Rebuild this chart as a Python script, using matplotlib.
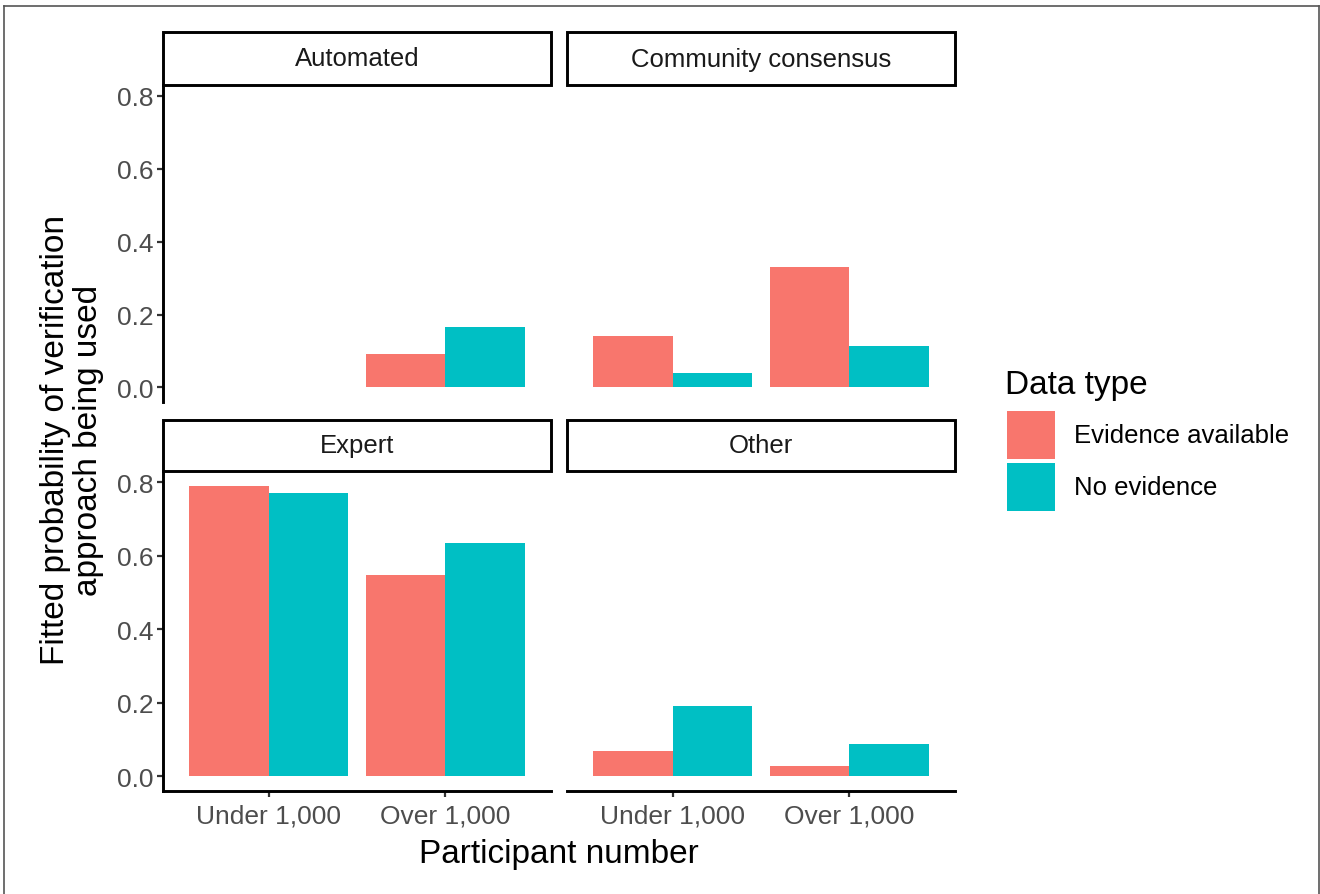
import matplotlib.pyplot as plt
from matplotlib.patches import Rectangle
from matplotlib.lines import Line2D
import numpy as np

plt.rcParams['font.family'] = ['Liberation Sans', 'DejaVu Sans']

# data
facets = ['Automated', 'Community consensus', 'Expert', 'Other']
groups = ['Under 1,000', 'Over 1,000']
series = ['Evidence available', 'No evidence']
colors = ['#F8766D', '#00BFC4']

evidence = {
    'Automated': [np.nan, 0.092],
    'Community consensus': [0.142, 0.331],
    'Expert': [0.789, 0.548],
    'Other': [0.070, 0.028],
}
no_evidence = {
    'Automated': [np.nan, 0.166],
    'Community consensus': [0.039, 0.113],
    'Expert': [0.769, 0.634],
    'Other': [0.190, 0.087],
}
yticks = [0.0, 0.2, 0.4, 0.6, 0.8]

W, H = 1320, 895
fig = plt.figure(figsize=(W / 100, H / 100), dpi=100)


def frect(x0, y0, x1, y1):
    # pixel box (top-left origin) -> figure fraction [l, b, w, h]
    return [x0 / W, 1 - y1 / H, (x1 - x0) / W, (y1 - y0) / H]


cols = [(163, 551), (567, 955)]
rows = [(86, 403), (472, 792)]
strips = [(33, 86), (421, 472)]

x = np.arange(1, len(groups) + 1)
bw = 0.45

for i, name in enumerate(facets):
    r, c = divmod(i, 2)
    x0, x1 = cols[c]
    y0, y1 = rows[r]
    ax = fig.add_axes(frect(x0, y0, x1, y1))
    ax.bar(x - bw / 2, evidence[name], width=bw, color=colors[0])
    ax.bar(x + bw / 2, no_evidence[name], width=bw, color=colors[1])
    ax.set_xlim(0.4, 2.6)
    ax.set_ylim(-0.04, 0.83)
    ax.set_yticks(yticks)
    ax.set_yticklabels(['%.1f' % v for v in yticks])
    ax.set_xticks(x)
    ax.set_xticklabels(groups)
    for s in ['top', 'right']:
        ax.spines[s].set_visible(False)
    ax.spines['left'].set_visible(c == 0)
    ax.spines['bottom'].set_visible(r == 1)
    for s in ['left', 'bottom']:
        ax.spines[s].set_linewidth(2.1)
        ax.spines[s].set_color('black')
    ax.tick_params(axis='y', left=(c == 0), labelleft=(c == 0),
                   length=4, width=1.6, color='#333333',
                   labelsize=19, labelcolor='#4D4D4D', pad=3)
    ax.tick_params(axis='x', bottom=(r == 1), labelbottom=(r == 1),
                   length=4, width=1.6, color='#333333',
                   labelsize=19, labelcolor='#4D4D4D', pad=5)
    ax.patch.set_alpha(0)

    # strip
    sy0, sy1 = strips[r]
    sx = frect(x0, sy0, x1, sy1)
    fig.patches.append(Rectangle((sx[0], sx[1]), sx[2], sx[3],
                                 transform=fig.transFigure, facecolor='white',
                                 edgecolor='black', linewidth=2.1))
    fig.text(sx[0] + sx[2] / 2, sx[1] + sx[3] / 2, name, ha='center',
             va='center', fontsize=18.5, color='#1A1A1A')

# axis titles
fig.text(72 / W, 1 - 440 / H,
         'Fitted probability of verification\napproach being used',
         rotation=90, ha='center', va='center', multialignment='center',
         fontsize=24, linespacing=1.1)
fig.text(559 / W, 1 - 855 / H, 'Participant number', ha='center',
         va='center', fontsize=24)

# legend
fig.text(1005 / W, 1 - 386 / H, 'Data type', ha='left', va='center',
         fontsize=24)
for k, (lab, col) in enumerate(zip(series, colors)):
    ky0 = 412 + k * 52
    kb = frect(1007, ky0, 1055, ky0 + 48)
    fig.patches.append(Rectangle((kb[0], kb[1]), kb[2], kb[3],
                                 transform=fig.transFigure, facecolor=col,
                                 edgecolor='none'))
    fig.text(1074 / W, 1 - (ky0 + 24) / H, lab, ha='left', va='center',
             fontsize=18.5)

# thin outer frame
for xs, ys in [([4, 4], [7, H]), ([4, 1319], [7, 7]), ([1319, 1319], [7, H])]:
    fig.lines.append(Line2D([v / W for v in xs], [1 - v / H for v in ys],
                            transform=fig.transFigure, color='#555555',
                            linewidth=1.2))

fig.savefig('out.png', dpi=100)
